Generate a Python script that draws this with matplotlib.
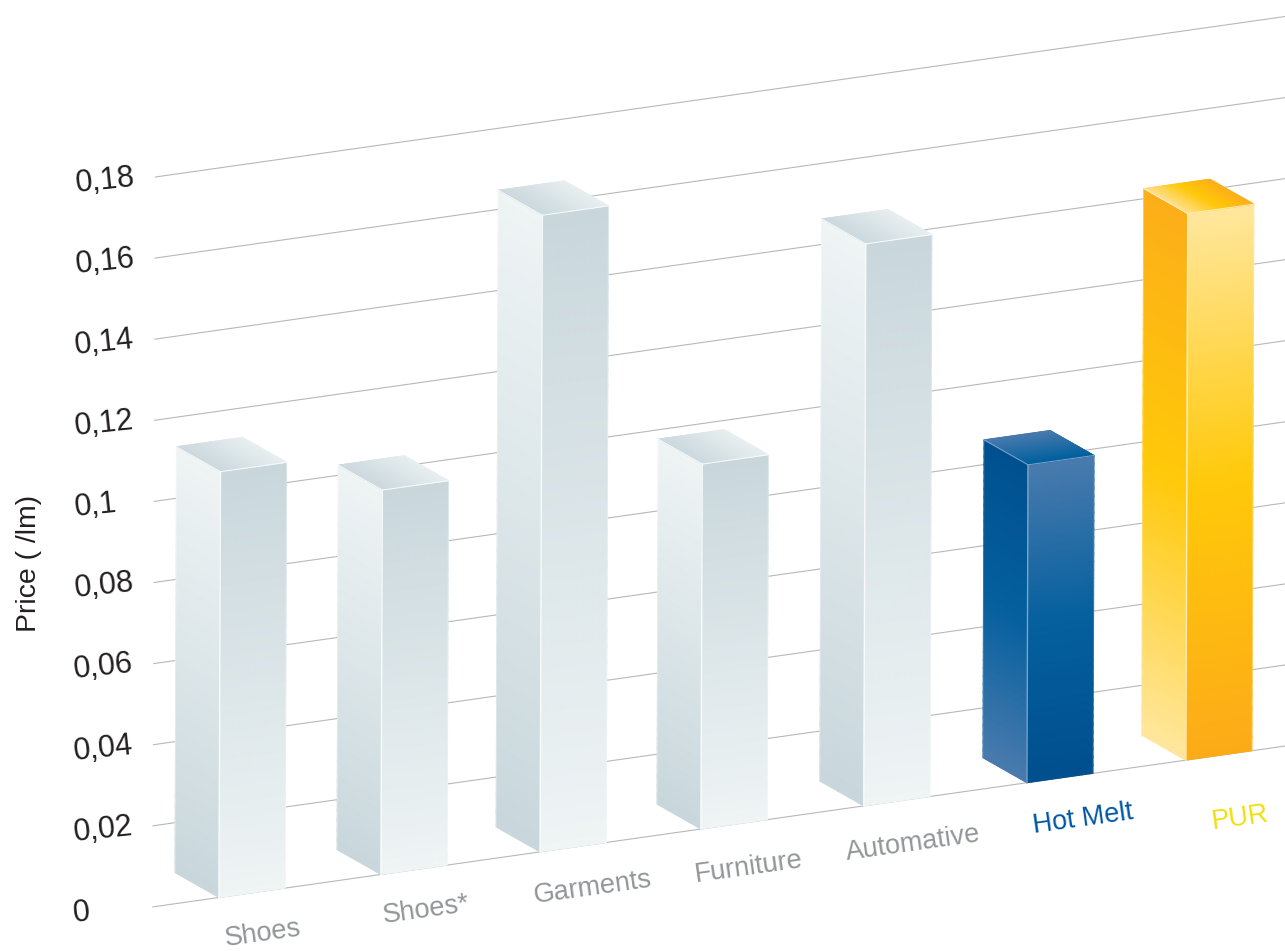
import numpy as np
import matplotlib.pyplot as plt
from matplotlib.colors import LinearSegmentedColormap
from matplotlib.transforms import Affine2D

plt.rcParams['font.family'] = ['Liberation Sans', 'DejaVu Sans']

# Chart values
categories = ['Shoes', 'Shoes*', 'Garments', 'Furniture', 'Automative', 'Hot Melt', 'PUR']
prices = [0.105, 0.0948, 0.157, 0.09, 0.1386, 0.0784, 0.1348]
yticks = [0, 0.02, 0.04, 0.06, 0.08, 0.10, 0.12, 0.14, 0.16, 0.18]
yticklabels = ['0', '0,02', '0,04', '0,06', '0,08', '0,1', '0,12', '0,14', '0,16', '0,18']

# Where the bars stand along the floor, and how they look
bar_pos = [0, 1.005, 1.992, 2.99, 4.0, 5.012, 5.998]
label_colors = ['#939598'] * 5 + ['#0058a3', '#f0e010']
bar_styles = ['grey'] * 5 + ['blue', 'yellow']
label_dx = [44, 45, 53, 48, 49, 56, 54]
label_dy = [42, 42, 43, 45, 45, 44, 66]

faces = {
    'grey': {'left': ['#eff4f5', '#c9d7dc'],
             'right': ['#c9d7dc', '#eff4f5'],
             'top': ['#ccd9de', '#e9eff1'], 'top_dir': 's', 'rim': '#f8fbfb'},
    'blue': {'left': ['#00508f', '#05609e', '#4a7bae'],
             'right': ['#4a7bae', '#05609e', '#004f8e'],
             'top': ['#4a7bae', '#005f9e'], 'top_dir': 't', 'rim': '#7fa3c8'},
    'yellow': {'left': ['#fcae19', '#ffc90a', '#ffe79e'],
               'right': ['#ffe79e', '#ffc90a', '#fcab18'],
               'top': ['#ffe090', '#ffc90a', '#fdaf19'], 'top_dir': 's', 'rim': '#ffeeb8'},
}

fig = plt.figure(figsize=(12.85, 9.51), dpi=100)
ax = fig.add_axes([0, 0, 1, 1])
ax.set_xlim(0, 1285)
ax.set_ylim(951, 0)
ax.axis('off')

# (category, value) goes to a sheared floor plane, everything is drawn through this
shear = Affine2D.from_values(161.2, -22.9, 14, -4055, 219, 897.5)
tr = shear + ax.transData

bar_w = 0.41
depth = np.array([-0.2736, 0.0077])
grid_x = [-0.41, 6.7]


def draw_face(p00, p10, p01, p11, colors, along='t', z=3):
    # bilinear patch: s runs left to right, t top to bottom
    s = np.linspace(0, 1, 30)
    t = np.linspace(0, 1, 40)
    S, T = np.meshgrid(s, t)
    X = (1-S)*(1-T)*p00[0] + S*(1-T)*p10[0] + (1-S)*T*p01[0] + S*T*p11[0]
    Y = (1-S)*(1-T)*p00[1] + S*(1-T)*p10[1] + (1-S)*T*p01[1] + S*T*p11[1]
    cmap = LinearSegmentedColormap.from_list('face', colors)
    C = T if along == 't' else S
    ax.pcolormesh(X, Y, C, cmap=cmap, vmin=0, vmax=1, shading='gouraud',
                  transform=tr, zorder=z)


# gridlines and tick labels
for v, lab in zip(yticks, yticklabels):
    ax.plot(grid_x, [v, v], color='#b8b8b8', lw=0.8, transform=tr, zorder=1)
    ax.annotate(lab, xy=(grid_x[0], v), xycoords=tr, xytext=(-80*0.72, -5),
                textcoords='offset points', ha='left', va='center',
                rotation=6, rotation_mode='anchor', fontsize=22, color='#231f20')

ax.text(29, 563, 'Price ( /lm)', rotation=90, ha='center', va='center',
        fontsize=20.4, color='#231f20')

# the bars
for i, (val, style) in enumerate(zip(prices, bar_styles)):
    f = faces[style]
    fb = np.array([bar_pos[i], 0.0])
    ft = np.array([bar_pos[i], val])
    rb = fb + [bar_w, 0]
    rt = ft + [bar_w, 0]
    lb = fb + depth
    lt = ft + depth
    bt = rt + depth

    draw_face(lt, ft, lb, fb, f['left'])
    draw_face(ft, rt, fb, rb, f['right'])
    draw_face(lt, bt, ft, rt, f['top'], along=f['top_dir'])

    # soft light edges around the faces
    rim = f['rim']
    ax.plot([ft[0], fb[0]], [ft[1], fb[1]], color=rim, lw=1.0, transform=tr, zorder=4)
    ax.plot([lt[0], ft[0], rt[0]], [lt[1], ft[1], rt[1]], color=rim, lw=0.7, transform=tr, zorder=4)
    for a, b in [(lt, lb), (rt, rb)]:
        ax.plot([a[0], b[0]], [a[1], b[1]], color=rim, lw=0.5, alpha=0.5, transform=tr, zorder=4)

# category labels under the floor
for i, (name, col) in enumerate(zip(categories, label_colors)):
    ax.annotate(name, xy=(bar_pos[i], 0), xycoords=tr,
                xytext=(label_dx[i]*0.72, (label_dx[i]*0.142 - label_dy[i])*0.72),
                textcoords='offset points', ha='center', va='center',
                rotation=8, rotation_mode='anchor', fontsize=19.5, color=col)

fig.savefig('out.png', dpi=100)
